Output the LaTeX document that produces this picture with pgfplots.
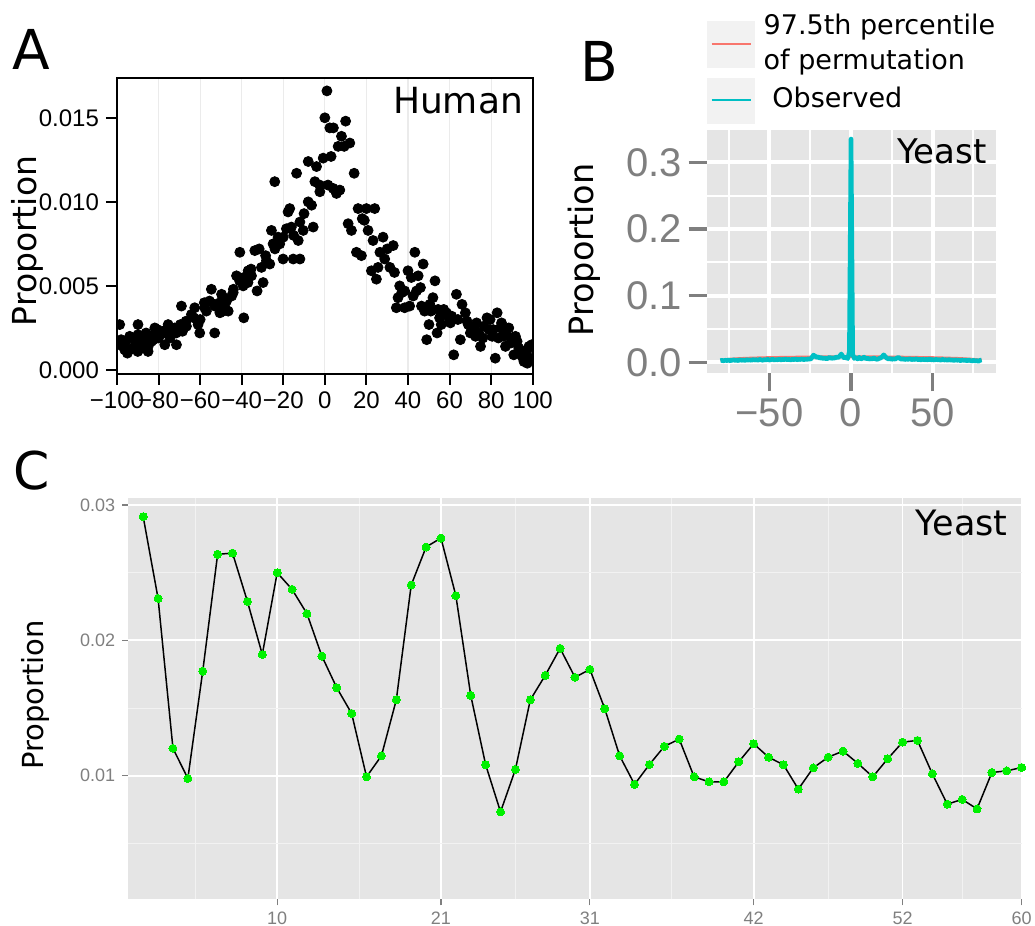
\documentclass[border=0pt]{standalone}
\usepackage{fontspec}
\setmainfont{DejaVu Sans}
\newfontfamily\arial{Liberation Sans}
\usepackage{pgfplots}
\pgfplotsset{compat=1.18}
\definecolor{ggred}{HTML}{F8766D}
\definecolor{ggcyan}{HTML}{00BFC4}
\definecolor{ggbg}{HTML}{E5E5E5}
\definecolor{ggminor}{HTML}{F2F2F2}
\definecolor{ggtick}{HTML}{7F7F7F}
\definecolor{gggreen}{HTML}{00F000}
\definecolor{agrid}{HTML}{EBEBEB}
\definecolor{legbg}{HTML}{F2F2F2}
\begin{document}
\begin{tikzpicture}
\path[use as bounding box] (0,0) rectangle (517.5pt,463pt);
% ---------------- Panel A ----------------
\begin{axis}[
  at={(58.5pt,276pt)}, anchor=south west, scale only axis,
  width=207.85pt, height=147.85pt,
  xmin=-100, xmax=100, ymin=-0.00024, ymax=0.01735,
  xtick={-100,-80,...,100},
  xticklabels={−100,−80,−60,−40,−20,0,20,40,60,80,100},
  ytick={0,0.005,0.01,0.015},
  yticklabels={0.000,0.005,0.010,0.015},
  scaled y ticks=false,
  tick align=outside, tick pos=left, major tick length=5.5pt,
  tick style={black, line width=1pt},
  axis line style={line width=1pt},
  xmajorgrids, major grid style={agrid, line width=0.6pt},
  ticklabel style={font=\arial\fontsize{12}{14}\selectfont, black},
  clip marker paths=true,
]
\addplot[only marks, mark=*, mark size=2.5pt, black] coordinates {
(-98.7,0.0027) (-98.7,0.0015) (-98,0.0018) (-96.3,0.0012) (-96,0.0016) (-95,0.0010)
(-93.9,0.0020) (-94,0.0012) (-93,0.0019) (-91.5,0.0013) (-91.5,0.0014) (-89.9,0.0027)
(-89.9,0.0021) (-90,0.0011) (-89,0.0016) (-87.5,0.0013) (-87.5,0.0019) (-86,0.0022)
(-85.05,0.0011) (-85,0.0014) (-83.4,0.0017) (-83.8,0.0020) (-82.5,0.0018) (-81.8,0.0025)
(-80.5,0.0024) (-80.2,0.0021) (-80,0.0019) (-77.8,0.0023) (-77,0.0015) (-77.5,0.0022)
(-75.4,0.0027) (-75,0.0024) (-74.6,0.0021) (-74.5,0.0019) (-72.2,0.0025) (-71.4,0.0015)
(-71.5,0.0022) (-69.5,0.0027) (-69,0.0038) (-68.5,0.0023) (-66.8,0.0029) (-66.6,0.0026)
(-64.2,0.0033) (-63,0.0031) (-62.6,0.0037) (-61,0.0027) (-60.2,0.0022) (-60,0.0030)
(-58,0.0040) (-57.8,0.0037) (-57,0.0035) (-55.5,0.0041) (-54.6,0.0048) (-53,0.0022)
(-53,0.0039) (-53,0.0038) (-50.5,0.0034) (-50.5,0.0040) (-49.7,0.0045) (-49,0.0043)
(-48.9,0.0035) (-48.3,0.0038) (-47.3,0.0041) (-46.5,0.0035) (-44.8,0.0044) (-44.1,0.0046)
(-44,0.0048) (-42.5,0.0056) (-41,0.0053) (-40.9,0.0070) (-39.3,0.0050) (-39,0.0031)
(-39,0.0055) (-37,0.0052) (-36.9,0.0059) (-35.5,0.0060) (-35.3,0.0056) (-33.7,0.0071)
(-32.6,0.0047) (-31.6,0.0072) (-30.5,0.0061) (-29.7,0.0052) (-28.5,0.0068) (-28.1,0.0065)
(-26.5,0.0063) (-25.7,0.0083) (-24.9,0.0075) (-24.1,0.0112) (-24,0.0072) (-22.5,0.0079)
(-21.7,0.0075) (-20.1,0.0066) (-20,0.0079) (-18.5,0.0084) (-17.7,0.0094) (-16.9,0.0096)
(-16.1,0.0085) (-15.2,0.0066) (-15,0.0080) (-13.6,0.0117) (-12.8,0.0077) (-12,0.0066)
(-12,0.0088) (-10.4,0.0083) (-10,0.0093) (-8,0.0100) (-8,0.0124) (-6.4,0.0098)
(-5.6,0.0085) (-4.8,0.0112) (-4,0.0121) (-2.5,0.0110) (-2.4,0.0106) (-0.8,0.0126)
(0,0.0150) (1,0.0166) (1.5,0.0110) (2.4,0.0144) (3,0.0127) (4,0.0108)
(4.1,0.0144) (5.6,0.0105) (6.4,0.0133) (7.2,0.0107) (8,0.0139) (9.3,0.0133)
(10,0.0148) (11.2,0.0087) (12,0.0135) (12.8,0.0083) (14.1,0.0117) (15.2,0.0070)
(16,0.0096) (17.6,0.0068) (18,0.0090) (19,0.0089) (20,0.0096) (20.8,0.0083)
(22.4,0.0059) (23.2,0.0077) (24,0.0096) (24.8,0.0054) (25.6,0.0061) (26.5,0.0070)
(28,0.0079) (28.8,0.0066) (30,0.0072) (31.3,0.0061) (32.9,0.0074) (33.5,0.0058)
(34.4,0.0037) (35.2,0.0043) (36,0.0050) (37,0.0046) (38.4,0.0047) (38.4,0.0037)
(40,0.0059) (40.8,0.0038) (41.6,0.0055) (42.5,0.0044) (43.3,0.0070) (44.1,0.0047)
(44.9,0.0056) (46,0.0049) (46.5,0.0038) (47.3,0.0063) (48,0.0035) (49,0.0018)
(50.1,0.0027) (50.5,0.0039) (51,0.0035) (52,0.0043) (53,0.0053) (54,0.0022)
(54.5,0.0036) (55.2,0.0031) (56,0.0027) (57.2,0.0036) (58.5,0.0034) (59.6,0.0031)
(60.4,0.0028) (61,0.0032) (62,0.0009) (63.3,0.0045) (64,0.0030) (65.2,0.0018)
(66,0.0039) (67.6,0.0034) (68.4,0.0029) (69,0.0027) (70,0.0022) (71.6,0.0025)
(72.5,0.0020) (73,0.0028) (74,0.0022) (74.9,0.0014) (76,0.0019) (76.5,0.0026)
(78,0.0031) (78.9,0.0024) (79.5,0.0030) (80.5,0.0020) (81,0.0024) (82,0.0007)
(82.9,0.0034) (83.5,0.0019) (84.5,0.0025) (85,0.0028) (86.1,0.0020) (86.9,0.0014)
(87.5,0.0021) (88.5,0.0025) (89.5,0.0016) (90.1,0.0019) (90.9,0.0009) (91.7,0.0020)
(92.5,0.0017) (93.3,0.0013) (94.9,0.0008) (95.8,0.0005) (96.5,0.0010) (97.4,0.0012)
(97.4,0.0004) (98.2,0.0006) (98.2,0.0014) (99.5,0.0015) (100,0.0007)
};
\end{axis}
% ---------------- Panel B ----------------
\begin{axis}[
  at={(353.35pt,276.35pt)}, anchor=south west, scale only axis,
  width=144.5pt, height=122.8pt,
  xmin=-88.4, xmax=88.6, ymin=-0.0165, ymax=0.352,
  axis background/.style={fill=ggbg},
  axis line style={draw=none},
  xtick={-50,0,50}, xticklabels={−50,0,50},
  ytick={0,0.1,0.2,0.3}, yticklabels={0.0,0.1,0.2,0.3},
  scaled y ticks=false,
  minor xtick={-75,-25,25,75}, minor ytick={0.05,0.15,0.25,0.35},
  tick align=outside, tick pos=left, major tick length=9pt, minor tick length=0pt,
  tick style={ggtick, line width=1.6pt},
  grid=both, major grid style={white, line width=2pt}, minor grid style={white, line width=1pt},
  ticklabel style={font=\arial\fontsize{20}{22}\selectfont, text=ggtick},
]
\addplot[ggred, line width=1.4pt] coordinates {
(-80,0.0030) (-75,0.0046) (-70,0.0054) (-65,0.0060) (-60,0.0064) (-55,0.0068) (-50,0.0071)
(-45,0.0073) (-40,0.0075) (-35,0.0077) (-30,0.0078) (-25,0.0080) (-20,0.0081) (-15,0.0082)
(-10,0.0083) (-5,0.0084) (0,0.0085) (5,0.0084) (10,0.0083) (15,0.0082) (20,0.0081)
(25,0.0079) (30,0.0078) (35,0.0076) (40,0.0074) (45,0.0072) (50,0.0070) (55,0.0067)
(60,0.0063) (65,0.0059) (70,0.0053) (75,0.0045) (80,0.0032)
};
\addplot[ggcyan, line width=2.3pt, line join=round] coordinates {
(-80,0.0025) (-79,0.0030) (-78,0.0022) (-77,0.0031) (-76,0.0026) (-75,0.0034) (-74,0.0024)
(-73,0.0030) (-72,0.0036) (-71,0.0028) (-70,0.0033) (-69,0.0025) (-68,0.0039) (-67,0.0030)
(-66,0.0035) (-65,0.0027) (-64,0.0040) (-63,0.0032) (-62,0.0038) (-61,0.0029) (-60,0.0042)
(-59,0.0034) (-58,0.0039) (-57,0.0031) (-56,0.0044) (-55,0.0036) (-54,0.0030) (-53,0.0041)
(-52,0.0035) (-51,0.0045) (-50,0.0033) (-49,0.0040) (-48,0.0046) (-47,0.0034) (-46,0.0042)
(-45,0.0037) (-44,0.0048) (-43,0.0036) (-42,0.0043) (-41,0.0039) (-40,0.0050) (-39,0.0038)
(-38,0.0044) (-37,0.0035) (-36,0.0046) (-35,0.0040) (-34,0.0051) (-33,0.0037) (-32,0.0045)
(-31,0.0041) (-30,0.0052) (-29,0.0039) (-28,0.0047) (-27,0.0042) (-26,0.0055) (-25,0.0044)
(-24,0.0070) (-23,0.0108) (-22,0.0092) (-21,0.0075) (-20,0.0080) (-19,0.0061) (-18,0.0072)
(-17,0.0054) (-16,0.0068) (-15,0.0050) (-14,0.0063) (-13,0.0075) (-12,0.0056) (-11,0.0070)
(-10,0.0060) (-9,0.0082) (-8,0.0070) (-7,0.0090) (-6,0.0125) (-5,0.0088) (-4,0.0062)
(-3,0.0078) (-2,0.0055) (-1,0.0160) (0,0.3350) (1,0.0120) (2,0.0058) (3,0.0072)
(4,0.0050) (5,0.0075) (6,0.0048) (7,0.0060) (8,0.0078) (9,0.0052) (10,0.0064)
(11,0.0046) (12,0.0058) (13,0.0049) (14,0.0066) (15,0.0051) (16,0.0044) (17,0.0056)
(18,0.0064) (19,0.0080) (20,0.0112) (21,0.0085) (22,0.0060) (23,0.0050) (24,0.0058)
(25,0.0043) (26,0.0054) (27,0.0047) (28,0.0062) (29,0.0074) (30,0.0056) (31,0.0045)
(32,0.0053) (33,0.0040) (34,0.0050) (35,0.0043) (36,0.0056) (37,0.0039) (38,0.0048)
(39,0.0041) (40,0.0054) (41,0.0038) (42,0.0046) (43,0.0035) (44,0.0049) (45,0.0037)
(46,0.0044) (47,0.0034) (48,0.0052) (49,0.0036) (50,0.0043) (51,0.0032) (52,0.0045)
(53,0.0038) (54,0.0040) (55,0.0031) (56,0.0046) (57,0.0033) (58,0.0040) (59,0.0029)
(60,0.0042) (61,0.0032) (62,0.0037) (63,0.0027) (64,0.0039) (65,0.0030) (66,0.0035)
(67,0.0024) (68,0.0036) (69,0.0028) (70,0.0033) (71,0.0022) (72,0.0034) (73,0.0026)
(74,0.0020) (75,0.0030) (76,0.0018) (77,0.0027) (78,0.0015) (79,0.0029) (80,0.0035)
};
\end{axis}
% ---------------- Panel C ----------------
\begin{axis}[
  at={(64.15pt,13.35pt)}, anchor=south west, scale only axis,
  width=446.7pt, height=200.5pt,
  xmin=0, xmax=60, ymin=0.00087, ymax=0.0305,
  axis background/.style={fill=ggbg},
  axis line style={draw=none},
  xtick={10,21,31,42,52,60},
  xticklabels={10,21,31,42,52,60},
  minor xtick={4.5,15.5,26,36.5,47,56},
  ytick={0.01,0.02,0.03}, yticklabels={0.01,0.02,0.03},
  scaled y ticks=false,
  minor ytick={0.005,0.015,0.025},
  tick align=outside, tick pos=left, major tick length=3pt, minor tick length=0pt,
  tick style={ggtick, line width=0.6pt},
  grid=both, major grid style={white, line width=0.9pt}, minor grid style={ggminor, line width=0.5pt},
  ticklabel style={font=\arial\fontsize{9}{10}\selectfont, text=ggtick},
  clip=false,
]
\addplot[black, line width=0.75pt, mark=*, mark size=2pt, mark options={draw=gggreen, fill=gggreen, line width=0pt}] coordinates {
(1,0.02914) (2,0.02310) (3,0.01202) (4,0.00980) (5,0.01773) (6,0.02636) (7,0.02645)
(8,0.02288) (9,0.01896) (10,0.02500) (11,0.02377) (12,0.02197) (13,0.01884) (14,0.01650)
(15,0.01460) (16,0.00992) (17,0.01147) (18,0.01561) (19,0.02409) (20,0.02690) (21,0.02756)
(22,0.02330) (23,0.01593) (24,0.01081) (25,0.00733) (26,0.01047) (27,0.01561) (28,0.01741)
(29,0.01941) (30,0.01727) (31,0.01786) (32,0.01495) (33,0.01147) (34,0.00936) (35,0.01083)
(36,0.01217) (37,0.01271) (38,0.00992) (39,0.00955) (40,0.00955) (41,0.01103) (42,0.01236)
(43,0.01137) (44,0.01081) (45,0.00901) (46,0.01058) (47,0.01137) (48,0.01182) (49,0.01091)
(50,0.00992) (51,0.01125) (52,0.01248) (53,0.01261) (54,0.01014) (55,0.00790) (56,0.00825)
(57,0.00755) (58,0.01024) (59,0.01036) (60,0.01061)
};
\end{axis}
% ---------------- Texts ----------------
\node[anchor=base west, inner sep=0pt, font=\fontsize{27.5}{30}\selectfont] at (6pt,428pt) {A};
\node[anchor=base west, inner sep=0pt, font=\fontsize{27.5}{30}\selectfont] at (290pt,422pt) {B};
\node[anchor=base west, inner sep=0pt, font=\fontsize{26}{30}\selectfont] at (6.5pt,218pt) {C};
\node[rotate=90, inner sep=0pt, font=\fontsize{16.5}{18}\selectfont] at (13.75pt,342.5pt) {Proportion};
\node[rotate=90, inner sep=0pt, font=\fontsize{16.75}{18}\selectfont] at (292pt,338pt) {Proportion};
\node[rotate=90, inner sep=0pt, font=\fontsize{14.5}{16}\selectfont] at (17.5pt,115.5pt) {Proportion};
\node[anchor=base east, inner sep=0pt, font=\fontsize{18}{20}\selectfont] at (261.65pt,406.35pt) {Human};
\node[anchor=base east, inner sep=0pt, font=\fontsize{17}{20}\selectfont] at (493.35pt,381.35pt) {Yeast};
\node[anchor=base east, inner sep=0pt, font=\fontsize{17.5}{20}\selectfont] at (504pt,195pt) {Yeast};
% legend of B
\fill[legbg] (353.35pt,428.85pt) rectangle (377.5pt,452.5pt);
\fill[legbg] (353.35pt,401pt) rectangle (377.5pt,423.85pt);
\draw[ggred, line width=1.1pt] (355.85pt,440.85pt) -- (375.35pt,440.85pt);
\draw[ggcyan, line width=1.1pt] (355.85pt,413pt) -- (375.35pt,413pt);
\node[anchor=base west, inner sep=0pt, font=\fontsize{13.5}{15}\selectfont] at (381.65pt,445.5pt) {97.5th percentile};
\node[anchor=base west, inner sep=0pt, font=\fontsize{13.5}{15}\selectfont] at (381.65pt,428pt) {of permutation};
\node[anchor=base west, inner sep=0pt, font=\fontsize{13.5}{15}\selectfont] at (386pt,409.35pt) {Observed};
\end{tikzpicture}
\end{document}
